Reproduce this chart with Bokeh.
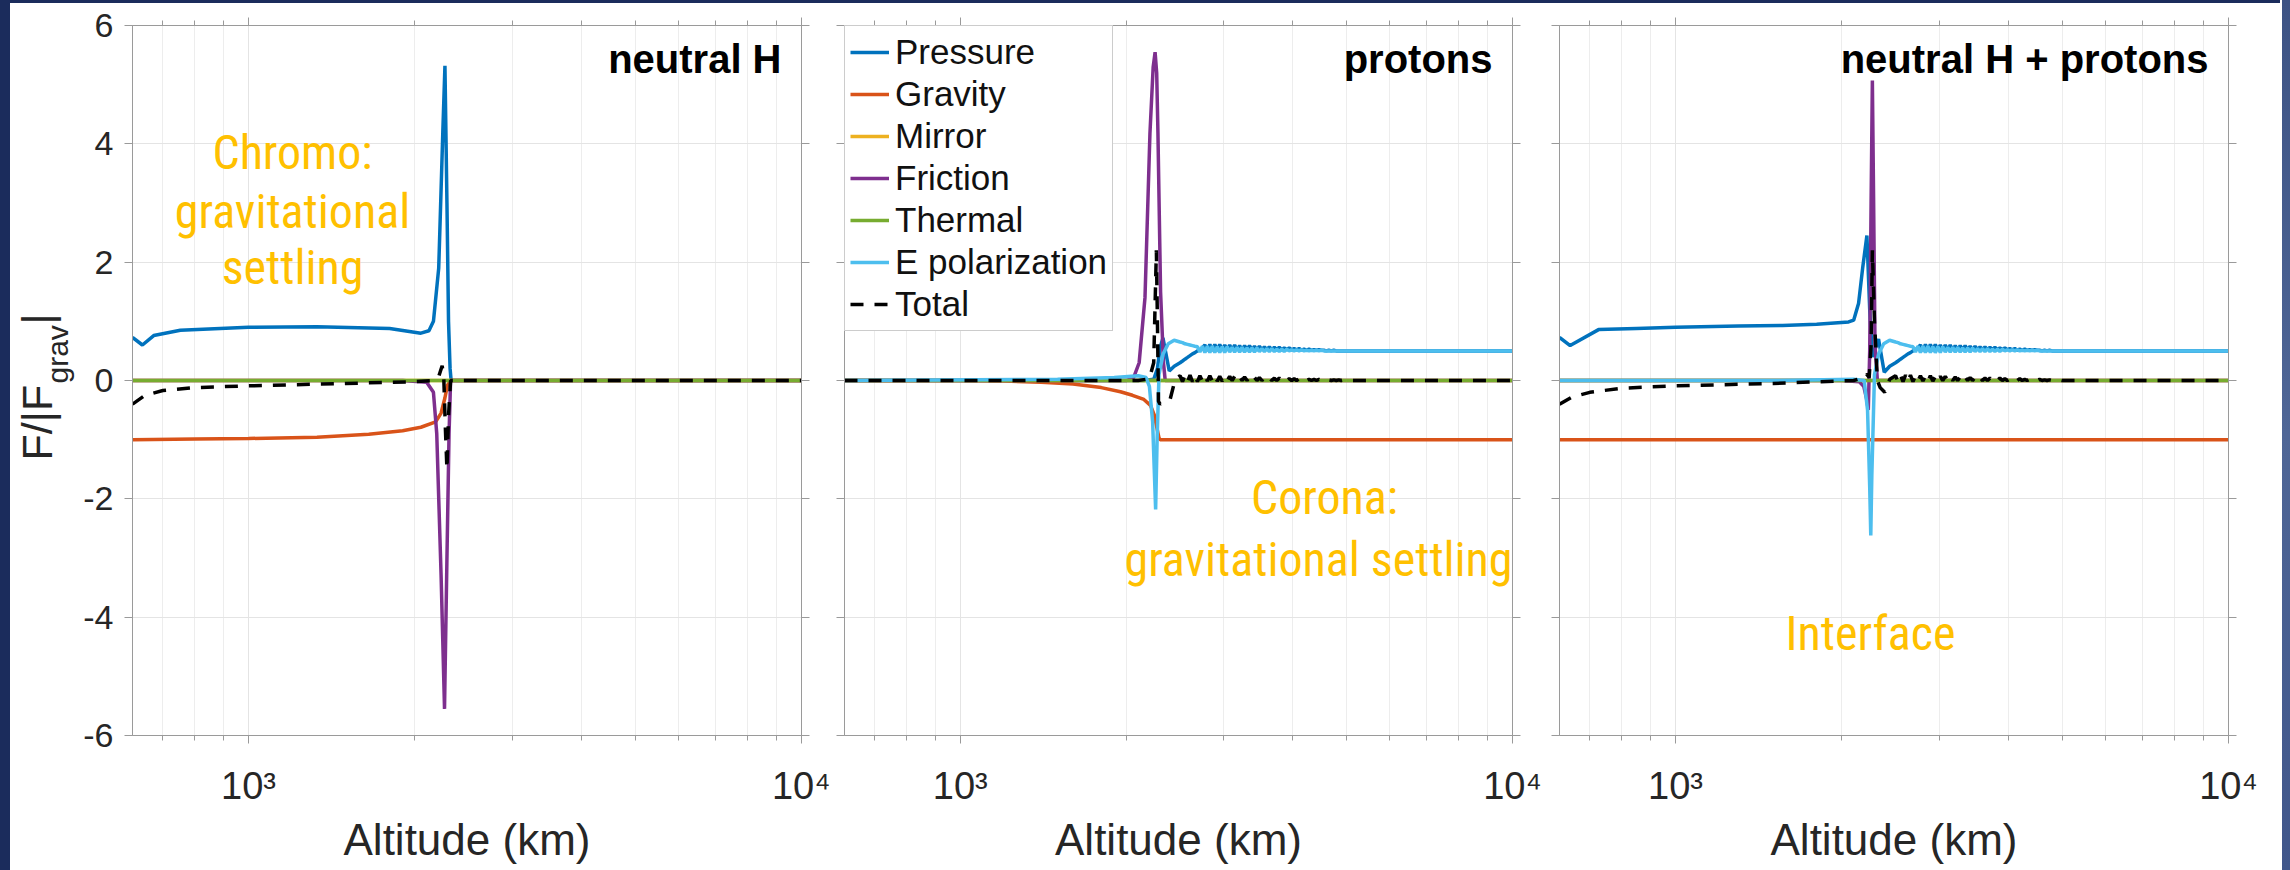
from bokeh.plotting import figure
from bokeh.models import (Range1d, FixedTicker, LogAxis, LinearAxis, Label,
                          Legend, LegendItem, Spacer)
from bokeh.layouts import row, column
from bokeh.embed import file_html
from bokeh.resources import INLINE

# ---------------- axes / categories ----------------
X_START, X_END = 617, 10000
Y_START, Y_END = -6, 6
Y_TICKS = [-6, -4, -2, 0, 2, 4, 6]
Y_TICK_LABELS = ["-6", "-4", "-2", "0", "2", "4", "6"]
X_MAJOR = [1000, 10000]
X_MAJOR_LABELS = ["10\u00b3", "10\u2074"]
X_MINOR = [700, 800, 900, 2000, 3000, 4000, 5000, 6000, 7000, 8000, 9000]
SERIES = ["Pressure", "Gravity", "Mirror", "Friction", "Thermal", "E polarization", "Total"]
PANEL_TITLES = ["neutral H", "protons", "neutral H + protons"]
X_LABEL = "Altitude (km)"

# ---------------- data ----------------
ZERO_X = [617, 10000]
ZERO_Y = [0.0, 0.0]

# post-transition oscillation region (shared by protons & combined runs)
OSC_X = [2500, 2526, 2552, 2579, 2606, 2633, 2660, 2688, 2716, 2744,
         2773, 2802, 2831, 2860, 2890, 2920, 2950, 2981, 3012, 3043,
         3075, 3107, 3139, 3172, 3205, 3238, 3272, 3306, 3340, 3375,
         3410, 3445, 3481, 3517, 3554, 3591, 3628, 3666, 3704, 3742,
         3781, 3820, 3860, 3900, 3941, 3982, 4023, 4065, 4107, 4150,
         4193, 4237, 4281, 4325, 4370, 4416, 4461, 4508, 4554, 4602,
         4649, 4698, 4746, 4796, 4845, 4896, 4946, 4998, 5050]
PRESSURE_OSC = [0.30, 0.33, 0.36, 0.39, 0.42, 0.45, 0.47, 0.50, 0.52, 0.55,
                0.60, 0.50, 0.61, 0.50, 0.61, 0.50, 0.61, 0.51, 0.60, 0.51,
                0.60, 0.51, 0.60, 0.51, 0.59, 0.51, 0.59, 0.51, 0.59, 0.51,
                0.58, 0.51, 0.58, 0.52, 0.57, 0.52, 0.57, 0.52, 0.56, 0.52,
                0.56, 0.52, 0.55, 0.52, 0.55, 0.52, 0.54, 0.52, 0.54, 0.51,
                0.53, 0.51, 0.53, 0.51, 0.52, 0.51, 0.52, 0.51, 0.51, 0.50,
                0.51, 0.50, 0.51, 0.50, 0.50, 0.50, 0.50, 0.50, 0.50]
EPOL_OSC = [0.65, 0.64, 0.62, 0.61, 0.60, 0.59, 0.58, 0.57, 0.48, 0.58,
            0.47, 0.58, 0.47, 0.58, 0.47, 0.57, 0.47, 0.57, 0.47, 0.57,
            0.48, 0.56, 0.48, 0.56, 0.48, 0.56, 0.48, 0.55, 0.48, 0.55,
            0.48, 0.55, 0.49, 0.54, 0.49, 0.54, 0.49, 0.54, 0.49, 0.53,
            0.49, 0.53, 0.49, 0.53, 0.50, 0.52, 0.50, 0.52, 0.50, 0.52,
            0.50, 0.51, 0.50, 0.51, 0.50, 0.51, 0.50, 0.51, 0.50, 0.50,
            0.50, 0.50, 0.50, 0.50, 0.50, 0.50, 0.50, 0.50, 0.50]
TOTAL_OSC = [0.08, -0.02, 0.09, -0.02, 0.09, -0.02, 0.09, -0.02, 0.08, -0.01,
             0.08, -0.01, 0.08, -0.01, 0.08, -0.01, 0.07, -0.01, 0.07, 0.00,
             0.07, 0.00, 0.07, 0.00, 0.06, 0.00, 0.06, 0.00, 0.06, 0.00,
             0.05, 0.00, 0.05, 0.00, 0.05, 0.00, 0.04, 0.00, 0.04, 0.00,
             0.04, 0.00, 0.04, 0.00, 0.03, 0.00, 0.03, 0.00, 0.03, 0.00,
             0.03, 0.00, 0.02, 0.00, 0.02, 0.00, 0.02, 0.00, 0.02, 0.00,
             0.01, 0.00, 0.01, 0.00, 0.01, 0.00, 0.01, 0.00, 0.00]
TAIL_X = [5600, 10000]

# panel 1: neutral H
P1_PRESSURE_X = [617, 643, 674, 753, 1000, 1330, 1800, 2050, 2120, 2160, 2208, 2246, 2266, 2285, 2300, 2315, 2325, 10000]
P1_PRESSURE_Y = [0.73, 0.60, 0.76, 0.85, 0.90, 0.91, 0.88, 0.80, 0.84, 1.00, 1.90, 4.20, 5.32, 3.00, 1.00, 0.20, 0.00, 0.00]
P1_GRAVITY_X = [617, 800, 1000, 1330, 1650, 1900, 2050, 2180, 2230, 2265, 2290, 2320, 10000]
P1_GRAVITY_Y = [-1.00, -0.99, -0.98, -0.96, -0.91, -0.85, -0.79, -0.70, -0.55, -0.30, -0.08, 0.00, 0.00]
P1_FRICTION_X = [617, 1900, 2100, 2160, 2190, 2230, 2262, 2285, 2305, 2320, 10000]
P1_FRICTION_Y = [0.0, 0.0, -0.03, -0.20, -0.90, -3.30, -5.55, -3.00, -0.90, 0.00, 0.00]
P1_TOTAL_X = [617, 650, 700, 800, 1000, 1500, 2000, 2150, 2210, 2240, 2255, 2270, 2285, 2300, 2320, 10000]
P1_TOTAL_Y = [-0.40, -0.25, -0.17, -0.12, -0.09, -0.05, -0.02, 0.00, 0.08, 0.25, 0.05, -0.80, -1.50, -0.60, 0.00, 0.00]

# panel 2: protons
P2_PRESSURE_X = [617, 2150, 2240, 2275, 2300, 2328, 2390, 2440] + OSC_X + TAIL_X
P2_PRESSURE_Y = [0.0, 0.0, 0.02, 0.20, 0.55, 0.72, 0.16, 0.24] + PRESSURE_OSC + [0.50, 0.50]
P2_GRAVITY_X = [617, 1000, 1200, 1400, 1600, 1800, 1950, 2050, 2150, 2210, 2245, 2270, 2290, 2300, 10000]
P2_GRAVITY_Y = [0.0, 0.0, -0.01, -0.03, -0.06, -0.12, -0.19, -0.25, -0.32, -0.42, -0.58, -0.80, -0.97, -1.00, -1.00]
P2_FRICTION_X = [617, 2000, 2060, 2108, 2160, 2205, 2235, 2253, 2268, 2280, 2305, 2333, 2350, 10000]
P2_FRICTION_Y = [0.0, 0.0, 0.05, 0.30, 1.40, 4.17, 5.30, 5.55, 5.20, 4.17, 1.50, 0.30, 0.00, 0.00]
P2_EPOL_X = [617, 1500, 1900, 2100, 2170, 2200, 2230, 2245, 2258, 2272, 2290, 2330, 2380, 2439] + OSC_X + TAIL_X
P2_EPOL_Y = [0.0, 0.02, 0.05, 0.08, 0.05, -0.10, -0.70, -1.50, -2.18, -1.00, 0.10, 0.45, 0.62, 0.68] + EPOL_OSC + [0.50, 0.50]
P2_TOTAL_X = [617, 2100, 2200, 2240, 2265, 2275, 2285, 2300, 2340, 2400, 2450] + OSC_X + TAIL_X
P2_TOTAL_Y = [0.0, 0.0, 0.03, 0.30, 2.20, 1.00, -0.35, -0.40, -0.35, -0.31, 0.02] + TOTAL_OSC + [0.0, 0.0]

# panel 3: neutral H + protons
P3_PRESSURE_X = [617, 645, 726, 850, 1000, 1300, 1561, 1800, 2056, 2100, 2143, 2180, 2219, 2245, 2270, 2300, 2329, 2385, 2440] + OSC_X + TAIL_X
P3_PRESSURE_Y = [0.73, 0.59, 0.86, 0.88, 0.90, 0.92, 0.93, 0.95, 0.99, 1.02, 1.30, 1.90, 2.45, 1.20, 0.40, 0.55, 0.70, 0.14, 0.24] + PRESSURE_OSC + [0.50, 0.50]
P3_GRAVITY_X = [617, 10000]
P3_GRAVITY_Y = [-1.0, -1.0]
P3_FRICTION_X = [617, 2000, 2150, 2190, 2215, 2232, 2245, 2258, 2270, 2282, 2295, 2318, 10000]
P3_FRICTION_Y = [0.0, 0.0, -0.02, -0.10, -0.30, -0.50, 0.50, 3.00, 5.07, 3.00, 0.60, 0.00, 0.00]
P3_EPOL_X = [617, 1500, 2100, 2194, 2225, 2245, 2255, 2265, 2290, 2330, 2380, 2439] + OSC_X + TAIL_X
P3_EPOL_Y = [0.0, 0.0, 0.02, 0.00, -0.50, -1.80, -2.62, -1.60, 0.10, 0.45, 0.62, 0.68] + EPOL_OSC + [0.50, 0.50]
P3_TOTAL_X = [617, 650, 700, 800, 1000, 1500, 2100, 2190, 2215, 2240, 2258, 2270, 2290, 2318, 2345, 2390, 2440] + OSC_X + TAIL_X
P3_TOTAL_Y = [-0.40, -0.28, -0.20, -0.13, -0.09, -0.05, 0.00, 0.05, 0.11, 0.05, 0.60, 2.20, 1.00, 0.00, -0.12, -0.20, 0.02] + TOTAL_OSC + [0.0, 0.0]

PANEL_DATA = [
    {"Pressure": (P1_PRESSURE_X, P1_PRESSURE_Y), "Gravity": (P1_GRAVITY_X, P1_GRAVITY_Y),
     "Mirror": (ZERO_X, ZERO_Y), "Friction": (P1_FRICTION_X, P1_FRICTION_Y),
     "Thermal": (ZERO_X, ZERO_Y), "Total": (P1_TOTAL_X, P1_TOTAL_Y)},
    {"Pressure": (P2_PRESSURE_X, P2_PRESSURE_Y), "Gravity": (P2_GRAVITY_X, P2_GRAVITY_Y),
     "Mirror": (ZERO_X, ZERO_Y), "Friction": (P2_FRICTION_X, P2_FRICTION_Y),
     "Thermal": (ZERO_X, ZERO_Y), "E polarization": (P2_EPOL_X, P2_EPOL_Y),
     "Total": (P2_TOTAL_X, P2_TOTAL_Y)},
    {"Pressure": (P3_PRESSURE_X, P3_PRESSURE_Y), "Gravity": (P3_GRAVITY_X, P3_GRAVITY_Y),
     "Mirror": (ZERO_X, ZERO_Y), "Friction": (P3_FRICTION_X, P3_FRICTION_Y),
     "Thermal": (ZERO_X, ZERO_Y), "E polarization": (P3_EPOL_X, P3_EPOL_Y),
     "Total": (P3_TOTAL_X, P3_TOTAL_Y)},
]

# annotation texts (text, centre x from frame left, centre y from frame bottom)
NOTES = [
    [("Chromo:", 160, 583), ("gravitational", 160, 524), ("settling", 160, 468)],
    [("Corona:", 480, 238), ("gravitational settling", 474, 176)],
    [("Interface", 311, 102)],
]
Y_LABEL_PARTS = ["F/|F", "grav", "|"]

# ---------------- styles ----------------
COLORS = {"Pressure": "#0072BD", "Gravity": "#D95319", "Mirror": "#EDB120",
          "Friction": "#7E2F8E", "Thermal": "#77AC30", "E polarization": "#4DBEEE",
          "Total": "#000000"}
AXIS_COLOR = "#9a9a9a"
TEXT_COLOR = "#262626"
NOTE_COLOR = "#FFC000"
FONT = "Liberation Sans"
NOTE_FONT = "'Roboto Condensed', 'DejaVu Sans Condensed', 'Liberation Sans Narrow', 'Open Sans Condensed', 'Arial Narrow', sans-serif"
FRAME_H = 710
FIG_H = 867
LINE_W = 3.5
# (frame width, border left, border right)
GEOM = [(669, 50, 29), (668, 14, 33), (669, 14, 54)]


def style_axis(ax):
    ax.axis_line_color = AXIS_COLOR
    ax.major_tick_line_color = AXIS_COLOR
    ax.minor_tick_line_color = AXIS_COLOR
    ax.major_tick_out = 8
    ax.major_tick_in = 0
    ax.minor_tick_out = 5
    ax.minor_tick_in = 0


def make_panel(i):
    fw, bl, br = GEOM[i]
    p = figure(x_axis_type="log", x_range=Range1d(X_START, X_END),
               y_range=Range1d(Y_START, Y_END),
               frame_width=fw, frame_height=FRAME_H,
               min_border_left=bl, min_border_right=br,
               min_border_top=22, min_border_bottom=FIG_H - 22 - FRAME_H,
               output_backend="svg", toolbar_location=None,
               background_fill_color="white", border_fill_color="white")
    p.outline_line_color = AXIS_COLOR

    xt = FixedTicker(ticks=X_MAJOR, minor_ticks=X_MINOR)
    yt = FixedTicker(ticks=Y_TICKS, minor_ticks=[])

    bottom = p.below[0]
    bottom.ticker = xt
    style_axis(bottom)
    bottom.major_label_overrides = {t: s for t, s in zip(X_MAJOR, X_MAJOR_LABELS)}
    bottom.major_label_text_font = FONT
    bottom.major_label_text_font_size = "38px"
    bottom.major_label_text_color = TEXT_COLOR
    bottom.major_label_standoff = 21
    bottom.axis_label = X_LABEL
    bottom.axis_label_text_font = FONT
    bottom.axis_label_text_font_size = "44px"
    bottom.axis_label_text_font_style = "normal"
    bottom.axis_label_text_color = TEXT_COLOR
    bottom.axis_label_standoff = 5

    left = p.left[0]
    left.ticker = yt
    style_axis(left)
    if i == 0:
        left.major_label_overrides = {t: s for t, s in zip(Y_TICKS, Y_TICK_LABELS)}
        left.major_label_text_font = FONT
        left.major_label_text_font_size = "34px"
        left.major_label_text_color = TEXT_COLOR
        left.major_label_standoff = 11
    else:
        left.major_label_overrides = {t: "" for t in Y_TICKS}
        left.major_label_text_font_size = "1px"
        left.major_label_standoff = 0

    top = LogAxis(ticker=FixedTicker(ticks=X_MAJOR, minor_ticks=X_MINOR),
                  major_label_overrides={t: "" for t in X_MAJOR},
                  major_label_text_font_size="1px", major_label_standoff=0)
    style_axis(top)
    p.add_layout(top, "above")
    right = LinearAxis(ticker=FixedTicker(ticks=Y_TICKS, minor_ticks=[]),
                       major_label_overrides={t: "" for t in Y_TICKS},
                       major_label_text_font_size="1px", major_label_standoff=0)
    style_axis(right)
    p.add_layout(right, "right")

    p.xgrid.grid_line_color = "#e4e4e4"
    p.xgrid.minor_grid_line_color = "#ededed"
    p.ygrid.grid_line_color = "#e4e4e4"

    data = PANEL_DATA[i]
    items = []
    for name in SERIES:
        if name not in data:
            continue
        xs, ys = data[name]
        r = p.line(xs, ys, line_color=COLORS[name], line_width=LINE_W,
                   line_dash=("13 11" if name == "Total" else "solid"))
        items.append(LegendItem(label=name, renderers=[r]))

    if i == 1:
        leg = Legend(items=items, location="top_left", margin=0, padding=5, spacing=0,
                     glyph_width=39, glyph_height=42, label_height=42, label_standoff=6,
                     label_text_font=FONT, label_text_font_size="35px",
                     label_text_color="#111111",
                     border_line_color=AXIS_COLOR, border_line_width=1,
                     background_fill_color="white", background_fill_alpha=1.0)
        p.add_layout(leg)

    # panel title
    p.add_layout(Label(x=fw - 20, y=FRAME_H - 33, x_units="screen", y_units="screen",
                       text=PANEL_TITLES[i], text_align="right", text_baseline="middle",
                       text_font=FONT, text_font_style="bold", text_font_size="40px",
                       text_color="#000000"))
    # yellow annotations
    for txt, x, y in NOTES[i]:
        p.add_layout(Label(x=x, y=y, x_units="screen", y_units="screen", text=txt,
                           text_align="center", text_baseline="middle",
                           text_font=NOTE_FONT, text_font_size="48px",
                           text_color=NOTE_COLOR))
    return p


def make_ylabel():
    q = figure(width=70, height=FIG_H, x_axis_type=None, y_axis_type=None,
               x_range=Range1d(0, 1), y_range=Range1d(0, 1), min_border=0,
               output_backend="svg", toolbar_location=None,
               background_fill_color="white", border_fill_color="white")
    q.outline_line_color = None
    q.grid.visible = False
    pos = [(26, 275, "43px"), (47, 352, "30px"), (26, 411, "43px")]
    for txt, (x, y, size) in zip(Y_LABEL_PARTS, pos):
        q.add_layout(Label(x=x, y=y, x_units="screen", y_units="screen", text=txt,
                           angle=90, angle_units="deg", text_align="left",
                           text_baseline="middle", text_font=FONT,
                           text_font_size=size, text_color=TEXT_COLOR))
    return q


panels = [make_panel(i) for i in range(3)]
NAVY = "#1b2c5c"
layout = row(
    Spacer(width=10, height=870, styles={"background-color": NAVY}),
    column(Spacer(width=2270, height=3, styles={"background-color": NAVY}),
           row(make_ylabel(), *panels)),
    Spacer(width=10, height=870, styles={"background": "linear-gradient(#3d5384, #4f6696, #40568a)"}),
)

open("out.html", "w").write(file_html(layout, INLINE))
